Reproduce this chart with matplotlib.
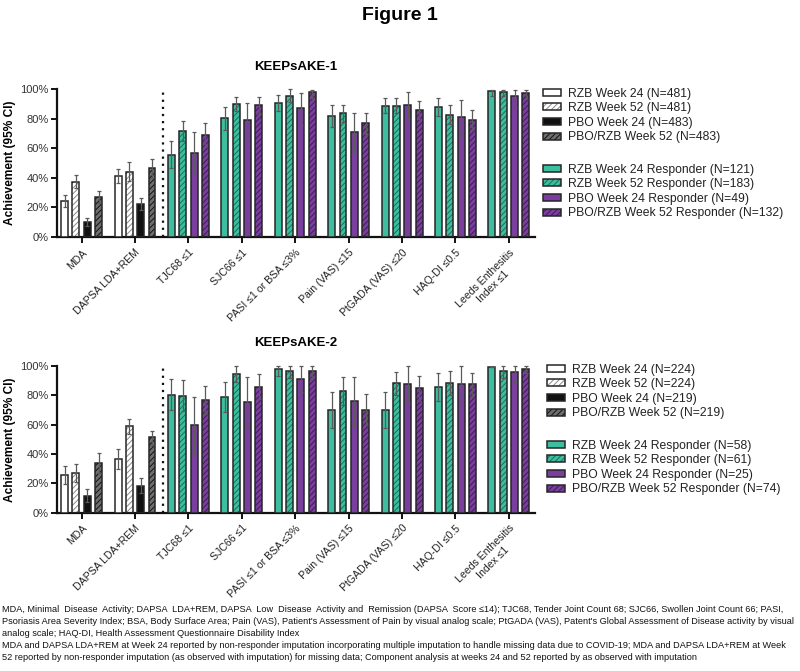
import matplotlib
matplotlib.use("Agg")
import matplotlib.pyplot as plt
import numpy as np
from matplotlib.patches import Patch
from matplotlib.legend_handler import HandlerTuple

plt.rcParams['font.family'] = ['Liberation Sans', 'DejaVu Sans']
plt.rcParams['hatch.linewidth'] = 0.7

categories = ["MDA", "DAPSA LDA+REM", "TJC68 ≤1", "SJC66 ≤1", "PASI ≤1 or BSA ≤3%",
              "Pain (VAS) ≤15", "PtGADA (VAS) ≤20", "HAQ-DI ≤0.5", "Leeds Enthesitis\nIndex ≤1"]

# ---- KEEPsAKE-1 ----
k1_overall = [[24.5, 37.3, 9.8, 27.0], [41.0, 44.0, 22.0, 46.4]]
k1_overall_hi = [[28.6, 42.0, 12.7, 31.4], [46.0, 51.0, 26.6, 53.0]]
k1_overall_lo = [[20.5, 33.0, 7.2, 23.0], [36.5, 37.5, 18.0, 40.0]]
k1_teal24 = [55.7, 80.2, 90.5, 82.0, 88.6, 87.7, 98.6]
k1_teal24_hi = [65.0, 87.7, 95.9, 89.5, 93.6, 93.6, 99.5]
k1_teal24_lo = [46.8, 72.5, 85.0, 74.5, 83.5, 81.5, 95.5]
k1_teal52 = [71.8, 89.8, 95.0, 83.6, 88.6, 82.5, 97.7]
k1_teal52_hi = [78.4, 94.3, 100.0, 89.3, 93.6, 89.5, 99.5]
k1_teal52_lo = [65.0, 85.0, 91.0, 77.5, 83.5, 76.5, 95.5]
k1_pur24 = [56.6, 79.0, 87.3, 70.7, 89.0, 81.0, 95.2]
k1_pur24_hi = [70.9, 90.5, 97.3, 83.9, 98.0, 92.3, 99.5]
k1_pur24_lo = [43.0, 67.5, 76.0, 57.5, 80.0, 69.5, 88.0]
k1_pur52 = [69.0, 88.9, 97.7, 76.8, 86.0, 79.0, 97.3]
k1_pur52_hi = [77.3, 94.3, 99.5, 84.0, 91.6, 86.0, 99.5]
k1_pur52_lo = [61.0, 83.0, 94.0, 69.5, 80.0, 72.0, 93.5]
k1_labels1 = ["RZB Week 24 (N=481)", "RZB Week 52 (N=481)", "PBO Week 24 (N=483)", "PBO/RZB Week 52 (N=483)"]
k1_labels2 = ["RZB Week 24 Responder (N=121)", "RZB Week 52 Responder (N=183)",
              "PBO Week 24 Responder (N=49)", "PBO/RZB Week 52 Responder (N=132)"]

# ---- KEEPsAKE-2 ----
k2_overall = [[25.5, 27.0, 11.4, 33.6], [36.6, 58.9, 18.4, 51.4]]
k2_overall_hi = [[31.8, 33.4, 16.0, 40.5], [43.6, 63.6, 23.4, 56.0]]
k2_overall_lo = [[19.5, 21.0, 7.0, 27.0], [30.0, 54.0, 13.5, 46.5]]
k2_teal24 = [80.2, 79.0, 97.7, 70.2, 70.2, 85.7, 99.3]
k2_teal24_hi = [91.0, 88.9, 100.0, 82.3, 82.3, 95.0, 99.3]
k2_teal24_lo = [70.0, 69.0, 93.0, 58.0, 58.0, 76.0, 99.3]
k2_teal52 = [79.8, 94.8, 96.4, 83.2, 88.2, 88.2, 96.4]
k2_teal52_hi = [90.2, 100.0, 100.0, 92.7, 95.9, 96.4, 100.0]
k2_teal52_lo = [69.5, 89.0, 91.5, 73.5, 80.0, 80.0, 91.5]
k2_pur24 = [59.5, 75.7, 91.4, 75.9, 87.7, 87.7, 95.7]
k2_pur24_hi = [79.0, 92.5, 100.0, 92.7, 100.0, 100.0, 100.0]
k2_pur24_lo = [40.0, 59.0, 82.0, 59.0, 75.0, 75.0, 89.0]
k2_pur52 = [76.6, 86.0, 96.6, 70.0, 84.8, 87.5, 98.0]
k2_pur52_hi = [86.4, 94.3, 100.0, 80.9, 93.2, 95.0, 100.0]
k2_pur52_lo = [67.0, 77.5, 92.0, 59.5, 76.0, 79.5, 95.0]
k2_labels1 = ["RZB Week 24 (N=224)", "RZB Week 52 (N=224)", "PBO Week 24 (N=219)", "PBO/RZB Week 52 (N=219)"]
k2_labels2 = ["RZB Week 24 Responder (N=58)", "RZB Week 52 Responder (N=61)",
              "PBO Week 24 Responder (N=25)", "PBO/RZB Week 52 Responder (N=74)"]

footnotes = [
    "MDA, Minimal  Disease  Activity; DAPSA  LDA+REM, DAPSA  Low  Disease  Activity and  Remission (DAPSA  Score ≤14); TJC68, Tender Joint Count 68; SJC66, Swollen Joint Count 66; PASI,",
    "Psoriasis Area Severity Index; BSA, Body Surface Area; Pain (VAS), Patient's Assessment of Pain by visual analog scale; PtGADA (VAS), Patent's Global Assessment of Disease activity by visual",
    "analog scale; HAQ-DI, Health Assessment Questionnaire Disability Index",
    "MDA and DAPSA LDA+REM at Week 24 reported by non-responder imputation incorporating multiple imputation to handle missing data due to COVID-19; MDA and DAPSA LDA+REM at Week",
    "52 reported by non-responder imputation (as observed with imputation) for missing data; Component analysis at weeks 24 and 52 reported by as observed with imputation",
]

TEAL = "#3DBE9E"
PURPLE = "#7A3F9E"
EDGE = "#262626"
ERRC = "#5a5a5a"

# style per series: (facecolor, hatch, hatchcolor)
styles_overall = [("white", None, None), ("white", "//////", "#8a8a8a"),
                  ("#111111", None, None), ("#6e6e6e", "//////", "#111111")]
styles_resp = [(TEAL, None, None), (TEAL, "//////", "#1d6e5a"),
               (PURPLE, None, None), (PURPLE, "//////", "#3d1d52")]

W = 0.13
OFF = np.array([-1.5, -0.5, 0.5, 1.5]) * 0.212
x_all = np.arange(len(categories))


def draw_bar(ax, x, v, hi, lo, st):
    fc, hatch, hc = st
    if hatch:
        ax.bar(x, v, W, color=fc, hatch=hatch, edgecolor=hc, linewidth=0, zorder=2)
        ax.bar(x, v, W, fill=False, edgecolor=EDGE, linewidth=1.1, zorder=3)
    else:
        ax.bar(x, v, W, color=fc, edgecolor=EDGE, linewidth=1.1, zorder=3)
    yerr = np.array([[v - lo], [hi - v]])
    ax.errorbar(x, v, yerr=yerr, fmt='none', ecolor=ERRC, elinewidth=0.9,
                capsize=1.6, capthick=0.9, zorder=4, clip_on=False)


def legend_handle(st):
    fc, hatch, hc = st
    if hatch:
        return (Patch(facecolor=fc, hatch=hatch, edgecolor=hc, linewidth=0),
                Patch(fill=False, edgecolor=EDGE, linewidth=1.1))
    return Patch(facecolor=fc, edgecolor=EDGE, linewidth=1.1)


def add_legend(fig, styles, labels, xy):
    handles = [legend_handle(s) for s in styles]
    leg = fig.legend(handles, labels, loc="upper left", bbox_to_anchor=xy, frameon=False,
                     fontsize=8.7, handlelength=1.5, handleheight=0.5, labelspacing=0.22,
                     handletextpad=0.55, borderpad=0, borderaxespad=0,
                     handler_map={tuple: HandlerTuple(ndivide=1, pad=0)})
    for t in leg.get_texts():
        t.set_color("#222222")


def panel(ax, overall, ohi, olo, resp, rhi, rlo, title, labels1, labels2, leg_x, leg_y1, leg_y2, fig, title_y):
    for gi in range(2):
        for si in range(4):
            draw_bar(ax, x_all[gi] + OFF[si], overall[gi][si], ohi[gi][si], olo[gi][si], styles_overall[si])
    for si in range(4):
        for gi in range(7):
            draw_bar(ax, x_all[gi + 2] + OFF[si], resp[si][gi], rhi[si][gi], rlo[si][gi], styles_resp[si])
    ax.axvline(1.52, ymin=0, ymax=1, color="#111111", linestyle=(0, (1, 2.2)), linewidth=1.6)
    ax.set_xlim(-0.46, 8.49)
    ax.set_ylim(0, 100)
    ax.set_yticks([0, 20, 40, 60, 80, 100])
    ax.set_yticklabels([f"{t}%" for t in [0, 20, 40, 60, 80, 100]], fontsize=8, color="#333333")
    ax.set_xticks(x_all)
    ax.set_xticklabels(categories, rotation=45, ha="right", rotation_mode="anchor", fontsize=7.6,
                       color="#222222", multialignment="center")
    for s in ["top", "right"]:
        ax.spines[s].set_visible(False)
    for s in ["left", "bottom"]:
        ax.spines[s].set_linewidth(1.6)
        ax.spines[s].set_color("#111111")
    ax.tick_params(axis="both", width=1.4, length=4, color="#111111")
    ax.tick_params(axis="y", pad=2)
    ax.set_ylabel("Achievement (95% CI)", fontsize=8.6, fontweight="bold", labelpad=3)
    pos = ax.get_position()
    fig.text((pos.x0 + pos.x1) / 2, title_y, title, ha="center", va="center", fontsize=9.5, fontweight="bold")
    add_legend(fig, styles_overall, labels1, (leg_x, leg_y1))
    add_legend(fig, styles_resp, labels2, (leg_x, leg_y2))


fig = plt.figure(figsize=(8.0, 6.71), dpi=100)
fig.text(0.5, 1 - 15 / 671, "Figure 1", ha="center", va="center", fontsize=14, fontweight="bold")

ax1 = fig.add_axes([0.0713, 0.6468, 0.5975, 0.2206])
panel(ax1, k1_overall, k1_overall_hi, k1_overall_lo,
      [k1_teal24, k1_teal52, k1_pur24, k1_pur52],
      [k1_teal24_hi, k1_teal52_hi, k1_pur24_hi, k1_pur52_hi],
      [k1_teal24_lo, k1_teal52_lo, k1_pur24_lo, k1_pur52_lo],
      "KEEPsAKE-1", k1_labels1, k1_labels2, 543 / 800, 1 - 87.5 / 671, 1 - 163.5 / 671, fig, 1 - 67 / 671)

ax2 = fig.add_axes([0.0713, 0.2359, 0.5975, 0.2186])
panel(ax2, k2_overall, k2_overall_hi, k2_overall_lo,
      [k2_teal24, k2_teal52, k2_pur24, k2_pur52],
      [k2_teal24_hi, k2_teal52_hi, k2_pur24_hi, k2_pur52_hi],
      [k2_teal24_lo, k2_teal52_lo, k2_pur24_lo, k2_pur52_lo],
      "KEEPsAKE-2", k2_labels1, k2_labels2, 547 / 800, 1 - 363.5 / 671, 1 - 439.5 / 671, fig, 1 - 343 / 671)

for i, line in enumerate(footnotes):
    fig.text(2 / 800, 1 - (609 + 12 * i) / 671, line, ha="left", va="center", fontsize=6.6, color="#111111")

fig.savefig("out.png", dpi=100)
